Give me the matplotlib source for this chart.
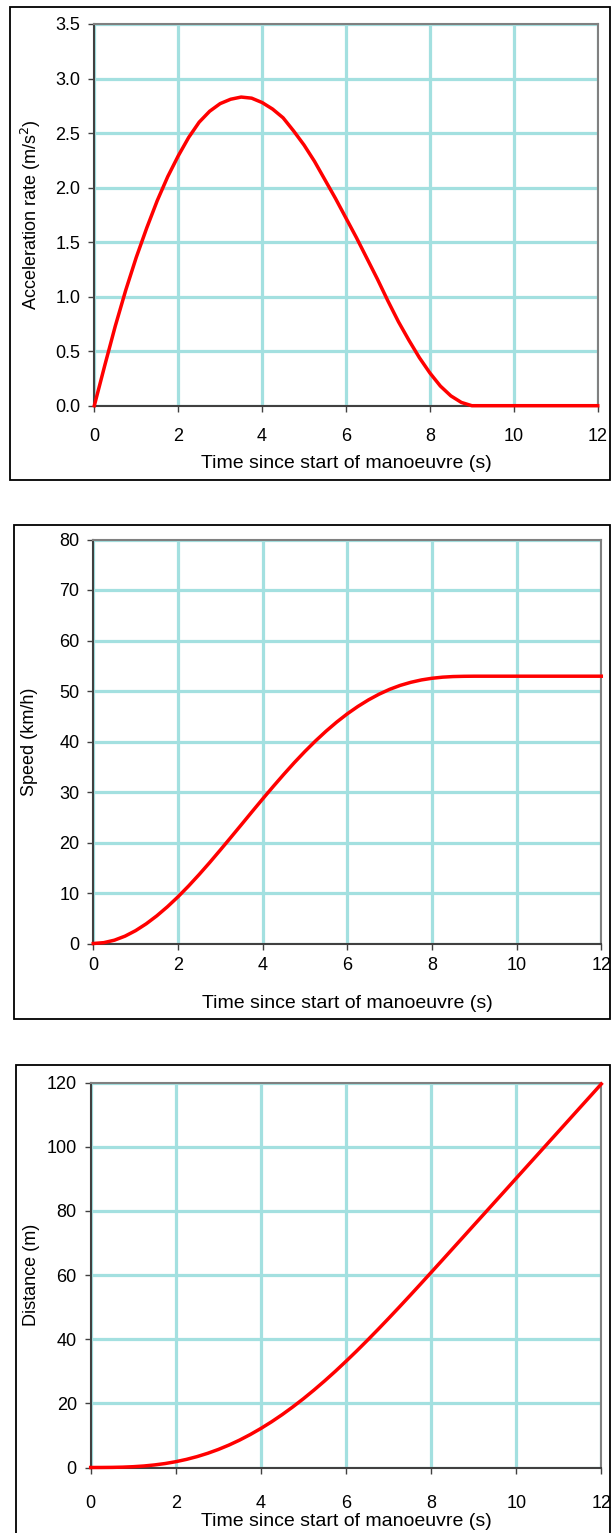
import matplotlib
matplotlib.use("Agg")
import matplotlib.pyplot as plt
from matplotlib.patches import Rectangle

plt.rcParams["font.family"] = ["Liberation Sans", "DejaVu Sans"]

# time base (s), quarter-second steps
time_s = [i * 0.25 for i in range(49)]

# acceleration rate (m/s2)
accel = [0.00, 0.37, 0.73, 1.06, 1.36, 1.63, 1.88, 2.10, 2.29, 2.46,
         2.60, 2.70, 2.77, 2.81, 2.83, 2.82, 2.78, 2.72, 2.64, 2.52,
         2.39, 2.24, 2.07, 1.90, 1.72, 1.54, 1.35, 1.16, 0.96, 0.77,
         0.60, 0.44, 0.30, 0.18, 0.09, 0.03, 0.00, 0.00, 0.00, 0.00,
         0.00, 0.00, 0.00, 0.00, 0.00, 0.00, 0.00, 0.00, 0.00]

# speed (km/h)
speed = [0.00, 0.17, 0.66, 1.46, 2.55, 3.90, 5.48, 7.27, 9.24, 11.38,
         13.66, 16.04, 18.51, 21.02, 23.55, 26.10, 28.62, 31.09, 33.50, 35.83,
         38.04, 40.12, 42.06, 43.85, 45.48, 46.94, 48.24, 49.37, 50.33, 51.11,
         51.72, 52.19, 52.52, 52.74, 52.86, 52.91, 52.93, 52.93, 52.93, 52.93,
         52.93, 52.93, 52.93, 52.93, 52.93, 52.93, 52.93, 52.93, 52.93]

# distance travelled (m)
distance = [0.00, 0.01, 0.04, 0.11, 0.25, 0.47, 0.80, 1.24, 1.81, 2.53,
            3.40, 4.43, 5.63, 7.00, 8.55, 10.28, 12.18, 14.25, 16.49, 18.90,
            21.46, 24.18, 27.03, 30.01, 33.12, 36.32, 39.63, 43.02, 46.48, 50.00,
            53.57, 57.18, 60.82, 64.47, 68.14, 71.81, 75.49, 79.16, 82.84, 86.51,
            90.19, 93.87, 97.54, 101.22, 104.89, 108.57, 112.25, 115.92, 119.60]

x_ticks = [0, 2, 4, 6, 8, 10, 12]
accel_ticks = [0.0, 0.5, 1.0, 1.5, 2.0, 2.5, 3.0, 3.5]
speed_ticks = [0, 10, 20, 30, 40, 50, 60, 70, 80]
dist_ticks = [0, 20, 40, 60, 80, 100, 120]

xlabel = "Time since start of manoeuvre (s)"

W, H = 611, 1533
fig = plt.figure(figsize=(W / 100, H / 100), dpi=100)

GRID = "#a3e0e0"
RED = "#ff0000"
DARK = "#404040"


def px_rect(x0, y0, x1, y1):
    """pixel box (top-left origin) -> figure fraction [l, b, w, h]"""
    return [x0 / W, 1 - y1 / H, (x1 - x0) / W, (y1 - y0) / H]


def frame(x0, y0, x1, y1):
    l, b, w, h = px_rect(x0, y0, x1, y1)
    fig.patches.append(Rectangle((l, b), w, h, transform=fig.transFigure,
                                 fill=False, edgecolor="black", linewidth=1.3,
                                 zorder=0))


def panel(box, y, yticks, fmt, ylab, ylab_x, xlab_y, xpad):
    ax = fig.add_axes(px_rect(*box))
    ax.plot(time_s, y, color=RED, linewidth=2.5, solid_joinstyle="round",
            zorder=3, clip_on=False)
    ax.set_xlim(0, 12)
    ax.set_ylim(yticks[0], yticks[-1])
    ax.set_xticks(x_ticks)
    ax.set_yticks(yticks)
    ax.set_yticklabels([fmt.format(v) for v in yticks])
    ax.grid(True, color=GRID, linewidth=2.3, zorder=1)
    ax.set_axisbelow(True)
    for side in ("left", "bottom"):
        ax.spines[side].set_color(DARK)
        ax.spines[side].set_linewidth(1.5)
    for side in ("top", "right"):
        ax.spines[side].set_color("#808080")
        ax.spines[side].set_linewidth(1.5)
    ax.tick_params(direction="out", length=4, width=1, color=DARK,
                   labelsize=13, labelcolor="black")
    ax.tick_params(axis="y", pad=6)
    ax.tick_params(axis="x", pad=xpad)
    ax.set_xlabel(xlabel, fontsize=14)
    ax.set_ylabel(ylab, fontsize=13)
    x0, y0, x1, y1 = box
    ax.xaxis.set_label_coords(0.5, -(xlab_y - y1) / (y1 - y0))
    ax.xaxis.label.set_va("center")
    ax.yaxis.set_label_coords(-(x0 - ylab_x) / (x1 - x0), 0.5)
    ax.yaxis.label.set_va("center")
    return ax


frame(10, 6.5, 610, 480)
panel((94.3, 24, 597.7, 405.7), accel, accel_ticks, "{:.1f}",
      "Acceleration rate (m/s$^2$)", 31, 463, 12)

frame(14, 525, 610, 1019)
panel((93.3, 539.5, 601.3, 943.5), speed, speed_ticks, "{:d}",
      "Speed (km/h)", 30, 1003, 6)

frame(15.5, 1065, 610, 1545)
panel((90.7, 1082.7, 601.3, 1467.5), distance, dist_ticks, "{:d}",
      "Distance (m)", 32, 1521, 16)

fig.savefig("out.png", dpi=100)
